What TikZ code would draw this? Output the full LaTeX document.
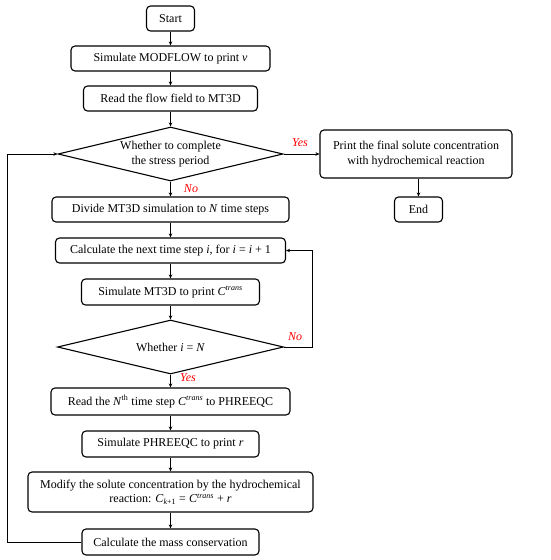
\documentclass[tikz,border=0pt]{standalone}
\usepackage{fontspec}
\setmainfont{Liberation Serif}
\usetikzlibrary{shapes.geometric,arrows.meta}
\tikzset{
  box/.style={draw, line width=1.1pt, rounded corners=4pt, inner sep=0pt, align=center, font=\fontsize{12}{14.5}\selectfont},
  dia/.style={draw, diamond, line width=1.1pt, inner sep=0pt},
  dtext/.style={align=center, inner sep=0pt, font=\fontsize{12}{14.5}\selectfont},
  flow/.style={line width=0.9pt, -{Stealth[length=4pt,width=3.5pt]}},
  lab/.style={text=red, font=\fontsize{12}{14}\selectfont\itshape, inner sep=0pt}
}
\begin{document}
\begin{tikzpicture}[x=1pt,y=-1pt]
\useasboundingbox (0,0) rectangle (550,560);
\node[box, minimum width=48pt, minimum height=25pt] (start) at (170.5,18.5) {Start};
\node[box, minimum width=199pt, minimum height=25pt] (sim) at (170.5,58.5) {Simulate MODFLOW to print \textit{v}};
\node[box, minimum width=174pt, minimum height=25pt] (read) at (170.5,98.5) {Read the flow field to MT3D};
\node[dia, minimum width=225pt, minimum height=54pt] (d1) at (170.5,154) {};
\node[dtext] (d1t) at (d1.center) {Whether to complete\\the stress period};
\node[box, minimum width=192pt, minimum height=48pt] (fin) at (416,154) {Print the final solute concentration\\with hydrochemical reaction};
\node[box, minimum width=48pt, minimum height=25pt] (end) at (418.5,209.5) {End};
\node[box, minimum width=237pt, minimum height=25pt] (div) at (170.5,209.5) {Divide MT3D simulation to \textit{N} time steps};
\node[box, minimum width=230pt, minimum height=25pt] (calc) at (170.5,250.5) {Calculate the next time step \textit{i}, for \textit{i} = \textit{i} + 1};
\node[box, minimum width=178pt, minimum height=26pt] (smt) at (170.5,292) {Simulate MT3D to print \textit{C}\textsuperscript{\textit{trans}}};
\node[dia, minimum width=226pt, minimum height=54pt] (d2) at (170.5,347) {};
\node[dtext] (d2t) at (d2.center) {Whether \textit{i} = \textit{N}};
\node[box, minimum width=239pt, minimum height=27pt] (rn) at (170.5,401.5) {Read the \textit{N}\textsuperscript{th} time step \textit{C}\textsuperscript{\textit{trans}} to PHREEQC};
\node[box, minimum width=177pt, minimum height=26pt] (sph) at (170.5,444) {Simulate PHREEQC to print \textit{r}};
\node[box, minimum width=285pt, minimum height=40pt] (mod) at (170.5,492) {Modify the solute concentration by the hydrochemical\\reaction: \textit{C}\textsubscript{\textit{k}+1} = \textit{C}\textsuperscript{\textit{trans}} + \textit{r}};
\node[box, minimum width=177pt, minimum height=26pt] (mass) at (170.5,542) {Calculate the mass conservation};
\coordinate (lp) at (7,542);
\coordinate (fb) at (312,347);
\draw[flow] (start) -- (sim);
\draw[flow] (sim) -- (read);
\draw[flow] (read) -- (d1);
\draw[flow] (d1) -- (fin);
\draw[flow] (fin.south -| end.north) -- (end);
\draw[flow] (d1) -- (div);
\draw[flow] (div) -- (calc);
\draw[flow] (calc) -- (smt);
\draw[flow] (smt) -- (d2);
\draw[flow] (d2.east) -- (fb) |- (calc.east);
\draw[flow] (d2) -- (rn);
\draw[flow] (rn) -- (sph);
\draw[flow] (sph) -- (mod);
\draw[flow] (mod) -- (mass);
\draw[flow] (mass.west) -- (lp) |- (d1.west);
\node[lab] (yes1) at (300,143) {Yes};
\node[lab] (no1) at (191,189) {No};
\node[lab] (no2) at (295,337) {No};
\node[lab] (yes2) at (188,378) {Yes};
\end{tikzpicture}
\end{document}
